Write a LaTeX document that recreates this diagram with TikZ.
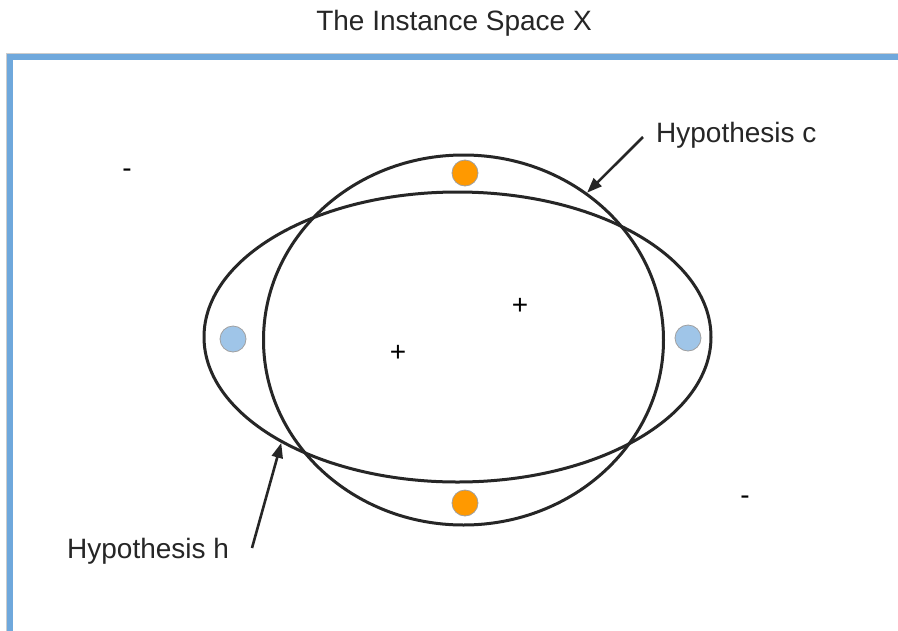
\documentclass[tikz,border=0pt]{standalone}
\usepackage{fontspec}
\setmainfont{Liberation Sans}
\usetikzlibrary{shapes.geometric,arrows.meta}
\definecolor{frameblue}{HTML}{6FA8DC}
\definecolor{dotorange}{HTML}{FF9900}
\definecolor{dotblue}{HTML}{9FC5E8}
\definecolor{dotedge}{HTML}{A0A0A0}
\tikzset{
  lbl/.style={inner sep=0pt, font=\fontsize{28}{32}\selectfont, text=black!85},
  sym/.style={inner sep=0pt, font=\fontsize{28}{32}\selectfont},
  hyp/.style={ellipse, draw=black!85, line width=3pt, inner sep=0pt},
  odot/.style={circle, fill=dotorange, draw=dotedge, line width=0.8pt, minimum size=26pt, inner sep=0pt},
  bdot/.style={circle, fill=dotblue, draw=dotedge, line width=0.8pt, minimum size=26pt, inner sep=0pt},
  pointer/.style={line width=2.6pt, draw=black!85, -{Triangle[length=15pt,width=11pt]}},
}
\begin{document}
\begin{tikzpicture}[x=1pt,y=-1pt]
\useasboundingbox (0,0) rectangle (898,630);
\fill[white] (0,0) rectangle (898,630);
% frame
\draw[black!20, line width=1pt] (6.5,640) -- (6.5,53) -- (910,53);
\draw[frameblue, line width=6pt] (10,640) -- (10,56.5) -- (910,56.5);
% title
\node[lbl] (title) at (454,23) {The Instance Space X};
% hypotheses
\node[hyp, minimum width=400pt, minimum height=370pt] (c) at (463.5,340) {};
\node[hyp, minimum width=507pt, minimum height=290pt] (h) at (457.5,337) {};
% dots
\node[odot] (o1) at (465,173) {};
\node[odot] (o2) at (465,503) {};
\node[bdot] (b1) at (233,339) {};
\node[bdot] (b2) at (688,338) {};
% signs
\node[sym] (p1) at (520,306) {+};
\node[sym] (p2) at (398,353) {+};
\node[sym] (m1) at (127,173) {-};
\node[sym] (m2) at (745,500) {-};
% labels
\node[lbl, anchor=west] (lc) at (656,135) {Hypothesis c};
\node[lbl, anchor=west] (lh) at (67,551) {Hypothesis h};
\coordinate (ctail) at (643,137);
\coordinate (htail) at (252,548);
\draw[pointer] (ctail) -- (c.50.5);
\draw[pointer] (htail) -- (h.211.3);
\end{tikzpicture}
\end{document}
